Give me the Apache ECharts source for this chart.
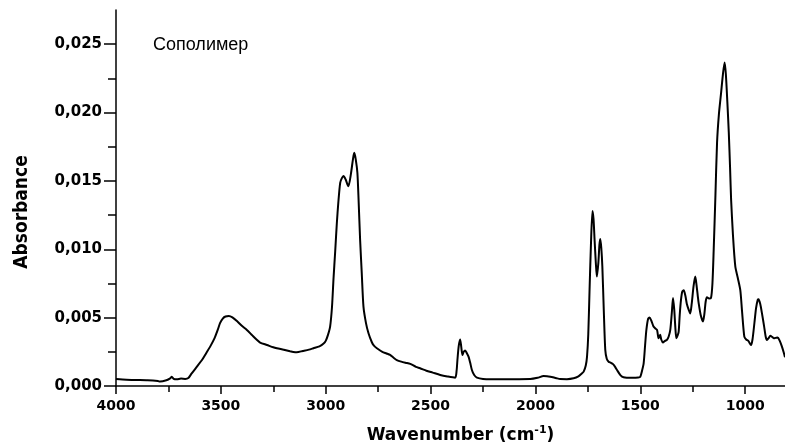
<!DOCTYPE html>
<html>
<head>
<meta charset="utf-8">
<script src="https://cdn.jsdelivr.net/npm/echarts@6/dist/echarts.min.js"></script>
<style>
html,body{margin:0;padding:0;background:#fff;}
#chart{width:785px;height:446px;}
</style>
</head>
<body>
<div id="chart"></div>
<script>
// Wavenumber (cm-1), descending
var wavenumbers = [4000,3950,3900,3850,3800,3790,3760,3740,3734,3725,3710,3690,3670,3655,3640,3615,3590,3570,3551,3530,3515,3504,3490,3478,3462,3445,3420,3400,3376,3350,3330,3313,3280,3250,3233,3200,3170,3154,3138,3110,3080,3059,3030,3010,3000,2990,2979,2970,2963,2955,2947,2940,2931,2923,2915,2905,2892,2880,2870,2864,2857,2849,2843,2836,2828,2820,2808,2796,2780,2770,2756,2730,2710,2693,2675,2661,2640,2620,2597,2570,2550,2520,2490,2454,2420,2383,2376,2372,2366,2359,2354,2348,2342,2335,2327,2319,2311,2303,2292,2279,2250,2168,2100,2025,1990,1961,1945,1929,1900,1882,1850,1818,1795,1780,1770,1760,1754,1748,1742,1735,1728,1723,1718,1712,1707,1700,1695,1691,1686,1681,1674,1667,1660,1651,1640,1630,1620,1611,1595,1580,1540,1510,1500,1492,1484,1477,1471,1463,1456,1448,1437,1428,1420,1413,1409,1405,1400,1392,1382,1373,1365,1357,1350,1344,1338,1333,1328,1322,1317,1312,1306,1300,1293,1285,1278,1269,1262,1255,1246,1238,1232,1226,1222,1212,1201,1195,1188,1182,1172,1163,1156,1150,1142,1134,1125,1115,1106,1098,1092,1085,1078,1072,1067,1058,1047,1035,1023,1015,1004,995,985,972,965,956,948,940,936,928,920,910,902,896,888,880,872,864,855,845,835,825,815,810];
// Absorbance
var absorbance = [0.00051,0.00046,0.00044,0.00042,0.00036,0.00032,0.00042,0.00058,0.00068,0.00052,0.00049,0.00054,0.00052,0.00058,0.0009,0.0014,0.0019,0.0024,0.00288,0.0035,0.0041,0.0046,0.00495,0.00508,0.00512,0.00502,0.0047,0.0044,0.0041,0.0037,0.0034,0.00318,0.0030,0.00283,0.00276,0.00265,0.00254,0.00249,0.00247,0.00256,0.00266,0.00276,0.0029,0.0031,0.0033,0.0037,0.00435,0.0058,0.0078,0.0098,0.0119,0.0134,0.01486,0.0152,0.01535,0.0151,0.01461,0.0155,0.0166,0.01706,0.0166,0.0156,0.0135,0.0107,0.0082,0.0058,0.0046,0.00386,0.0032,0.00295,0.00276,0.0025,0.00238,0.00227,0.00205,0.0019,0.00178,0.0017,0.00162,0.0014,0.0013,0.00112,0.00098,0.00081,0.0007,0.00061,0.0011,0.0019,0.0029,0.0034,0.0029,0.00227,0.0025,0.0026,0.0024,0.00215,0.0017,0.00117,0.0008,0.00061,0.00052,0.00049,0.0005,0.00051,0.0006,0.00073,0.00072,0.00068,0.00057,0.00051,0.0005,0.00056,0.0007,0.0009,0.00105,0.0015,0.00215,0.0038,0.0070,0.0105,0.0128,0.0122,0.0107,0.0090,0.0080,0.0090,0.0103,0.01075,0.0101,0.00875,0.0055,0.00264,0.0020,0.00178,0.0017,0.0016,0.0014,0.00117,0.0008,0.00064,0.0006,0.00062,0.00068,0.0011,0.00166,0.0030,0.0041,0.0049,0.00501,0.0048,0.00435,0.0042,0.0041,0.00349,0.0036,0.00374,0.0034,0.00318,0.0033,0.00337,0.0036,0.0041,0.0053,0.00643,0.00557,0.0043,0.00349,0.0037,0.00398,0.0052,0.0063,0.0069,0.0070,0.0066,0.0060,0.00557,0.0053,0.0060,0.0073,0.0080,0.0074,0.0066,0.0061,0.0052,0.00472,0.0052,0.0062,0.0065,0.0064,0.00643,0.0075,0.00997,0.0138,0.0178,0.0199,0.0214,0.0228,0.02366,0.0228,0.0208,0.01853,0.0160,0.01364,0.0110,0.00875,0.0079,0.0070,0.0055,0.00361,0.0034,0.0033,0.0030,0.0034,0.00459,0.0057,0.0063,0.00635,0.0060,0.00533,0.0044,0.0036,0.00337,0.0035,0.00367,0.0036,0.0035,0.00352,0.00355,0.0033,0.0029,0.0024,0.0021];
var xMajorTicks = [1000,1500,2000,2500,3000,3500,4000];
var xMinorTicks = [1250,1750,2250,2750,3250,3750];
var yMajorTicks = [0,0.005,0.010,0.015,0.020,0.025];
var yMinorTicks = [0.0025,0.0075,0.0125,0.0175,0.0225];
var titleText = 'Сополимер';
var xName = 'Wavenumber (cm{sup|-1})';
var yName = 'Absorbance';

var seriesData = wavenumbers.map(function(w, i){ return [w, absorbance[i]]; });

var chart = echarts.init(document.getElementById('chart'), null, {renderer:'canvas'});
var X_MIN = 810, X_MAX = 4000, Y_MIN = 0, Y_MAX = 0.0275;
var axisColor = '#000';
chart.setOption({
  animation: false,
  backgroundColor: '#fff',
  title: {
    text: titleText, left: 148, top: 31,
    textStyle: {fontFamily: 'Liberation Sans, Arial, sans-serif', fontSize: 18, fontWeight: 'normal', color: '#000'}
  },
  grid: {left: 116, right: 0, top: 10, bottom: 60, containLabel: false, outerBoundsMode: 'none'},
  xAxis: [{
    type: 'value', min: X_MIN, max: X_MAX, inverse: true,
    name: xName, nameLocation: 'middle', nameGap: 39,
    nameTextStyle: {fontFamily: 'DejaVu Sans', fontSize: 17, fontWeight: 'bold', color: '#000', padding: [0,0,0,20],
      rich: {sup: {fontFamily: 'DejaVu Sans', fontSize: 11, fontWeight: 'bold', color: '#000', verticalAlign: 'top', padding: [0,0,10,0]}}},
    splitLine: {show: false},
    axisLine: {show: true, onZero: false, lineStyle: {color: axisColor, width: 1.5}},
    axisTick: {show: true, length: 8, customValues: xMajorTicks, lineStyle: {color: axisColor, width: 1.5}},
    axisLabel: {customValues: xMajorTicks, margin: 13, fontFamily: 'DejaVu Sans', fontSize: 14, fontWeight: 'bold', color: '#000',
      formatter: function(v){ return String(Math.round(v)); }}
  },{
    type: 'value', min: X_MIN, max: X_MAX, inverse: true, position: 'bottom',
    splitLine: {show: false},
    axisLine: {show: false, onZero: false},
    axisTick: {show: true, length: 6, customValues: xMinorTicks, lineStyle: {color: axisColor, width: 1.5}},
    axisLabel: {show: false}
  }],
  yAxis: [{
    type: 'value', min: Y_MIN, max: Y_MAX,
    name: yName, nameLocation: 'middle', nameGap: 84, nameRotate: 90,
    nameTextStyle: {fontFamily: 'Liberation Sans Narrow, DejaVu Sans Condensed, sans-serif', fontSize: 19, fontWeight: 'bold', color: '#000', padding: [0,28,0,0]},
    splitLine: {show: false},
    axisLine: {show: true, onZero: false, lineStyle: {color: axisColor, width: 1.5}},
    axisTick: {show: true, length: 12, customValues: yMajorTicks, lineStyle: {color: axisColor, width: 1.5}},
    axisLabel: {customValues: yMajorTicks, margin: 14, fontFamily: 'DejaVu Sans', fontSize: 15, fontWeight: 'bold', color: '#000',
      formatter: function(v){ return v.toFixed(3).replace('.', ','); }}
  },{
    type: 'value', min: Y_MIN, max: Y_MAX, position: 'left',
    splitLine: {show: false},
    axisLine: {show: false, onZero: false},
    axisTick: {show: true, length: 8, customValues: yMinorTicks, lineStyle: {color: axisColor, width: 1.5}},
    axisLabel: {show: false}
  }],
  series: [{
    type: 'line', xAxisIndex: 0, yAxisIndex: 0,
    data: seriesData, showSymbol: false, symbol: 'none', smooth: 0.25,
    lineStyle: {color: '#000', width: 2}
  }]
});
</script>
</body>
</html>
